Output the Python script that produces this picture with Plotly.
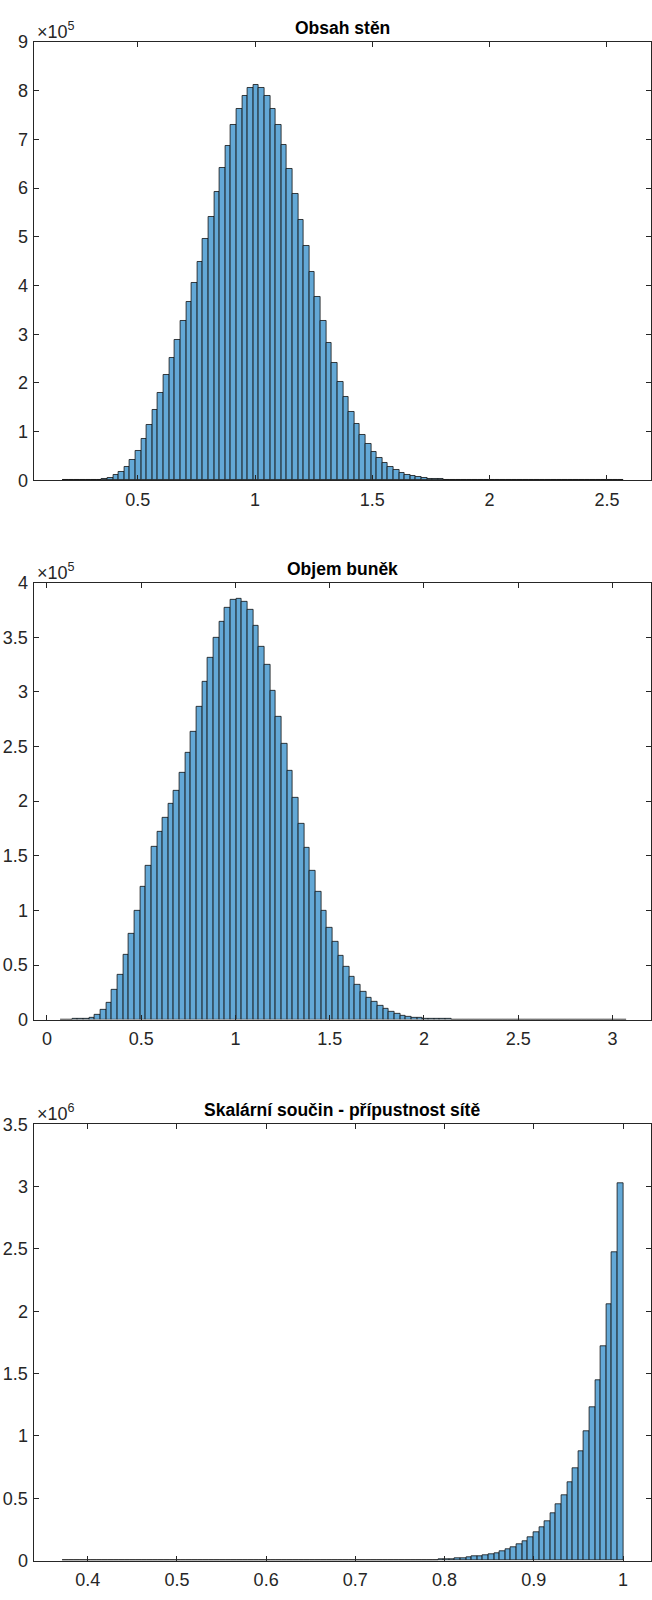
import numpy as np
import plotly.graph_objects as go

# ---------------- DATA ----------------
# Histogram 1: "Obsah stěn" (100 bins between min and max)
obsah_min, obsah_max = 0.18, 2.57
obsah_counts = [
    30, 70, 150, 300, 600, 1100, 1800, 3400, 5800, 11000,
    17800, 28000, 42500, 61000, 85300, 113000, 144700, 180500, 216400, 252200,
    288000, 326600, 366500, 405000, 447600, 496300, 541600, 591600, 641600, 686300,
    728900, 762700, 789700, 806000, 812100, 804600, 789700, 762700, 728900, 687600,
    639600, 588200, 534800, 480700, 428700, 377300, 327900, 282600, 240700, 202800,
    171100, 140000, 115000, 92600, 74400, 58100, 46700, 35800, 27000, 21600,
    15600, 12200, 8800, 6800, 4700, 3400, 2700, 2000, 1500, 1100,
    850, 650, 500, 380, 290, 220, 170, 130, 100, 80,
    60, 45, 35, 28, 22, 17, 13, 10, 8, 6,
    5, 4, 3, 2, 2, 1, 1, 1, 0, 1,
]

# Histogram 2: "Objem buněk"
objem_min, objem_max = 0.074, 3.074
objem_counts = [
    100, 200, 350, 600, 1200, 2100, 4500, 9000, 15700, 27100,
    40700, 59100, 79000, 99500, 121800, 140800, 158000, 172400, 185100, 197700,
    209800, 226100, 244200, 263500, 286400, 309600, 331000, 350000, 364700, 377400,
    384000, 384900, 382200, 375000, 360500, 341800, 324900, 301100, 277600, 252300,
    227900, 203500, 179400, 157000, 136200, 117000, 100100, 84100, 71100, 58800,
    48500, 38900, 31700, 25600, 19900, 16000, 12400, 9600, 7200, 5400,
    3900, 2700, 2100, 1500, 1200, 900, 700, 500, 400, 300,
    230, 180, 140, 110, 85, 65, 50, 40, 30, 24,
    18, 14, 11, 9, 7, 5, 4, 3, 3, 2,
    2, 1, 1, 1, 1, 0, 1, 0, 0, 1,
]

# Histogram 3: "Skalární součin - přípustnost sítě"
skal_min, skal_max = 0.372, 1.0
skal_counts = [
    2, 3, 3, 4, 5, 6, 7, 9, 10, 12,
    14, 16, 19, 22, 25, 29, 33, 38, 44, 50,
    57, 65, 74, 84, 95, 108, 122, 138, 155, 175,
    197, 220, 246, 275, 307, 342, 380, 422, 468, 518,
    573, 633, 698, 769, 846, 930, 1020, 1120, 1230, 1350,
    1480, 1620, 1780, 1950, 2130, 2330, 2550, 2790, 3050, 3330,
    3640, 3970, 4330, 4720, 4500, 5500, 7000, 8000, 11000, 13000,
    18000, 21000, 26000, 32000, 37000, 45000, 53000, 63000, 77000, 92000,
    111000, 132000, 158000, 187000, 227000, 269000, 317000, 377000, 449000, 528000,
    631000, 742000, 876000, 1035000, 1227000, 1449000, 1718000, 2053000, 2470000, 3030000,
]

titles = ["Obsah stěn", "Objem buněk", "Skalární součin - přípustnost sítě"]
exponents = ["5", "5", "6"]

x1_ticks = [0.5, 1, 1.5, 2, 2.5]
x1_labels = ["0.5", "1", "1.5", "2", "2.5"]
y1_ticks = [0, 1, 2, 3, 4, 5, 6, 7, 8, 9]
y1_labels = ["0", "1", "2", "3", "4", "5", "6", "7", "8", "9"]

x2_ticks = [0, 0.5, 1, 1.5, 2, 2.5, 3]
x2_labels = ["0", "0.5", "1", "1.5", "2", "2.5", "3"]
y2_ticks = [0, 0.5, 1, 1.5, 2, 2.5, 3, 3.5, 4]
y2_labels = ["0", "0.5", "1", "1.5", "2", "2.5", "3", "3.5", "4"]

x3_ticks = [0.4, 0.5, 0.6, 0.7, 0.8, 0.9, 1.0]
x3_labels = ["0.4", "0.5", "0.6", "0.7", "0.8", "0.9", "1"]
y3_ticks = [0, 0.5, 1, 1.5, 2, 2.5, 3, 3.5]
y3_labels = ["0", "0.5", "1", "1.5", "2", "2.5", "3", "3.5"]

# ---------------- LAYOUT CONSTANTS ----------------
W, H = 652, 1600
LEFT, RIGHT = 33.5, 651.0
panels = [
    dict(counts=obsah_counts, lo=obsah_min, hi=obsah_max, scale=1e5,
         xr=[0.0556, 2.688], yr=[0, 9], top=32.3, bottom=476.3,
         xt=x1_ticks, xl=x1_labels, yt=y1_ticks, yl=y1_labels),
    dict(counts=objem_counts, lo=objem_min, hi=objem_max, scale=1e5,
         xr=[-0.071, 3.204], yr=[0, 4], top=580.0, bottom=1022.4,
         xt=x2_ticks, xl=x2_labels, yt=y2_ticks, yl=y2_labels),
    dict(counts=skal_counts, lo=skal_min, hi=skal_max, scale=1e6,
         xr=[0.3393, 1.0313], yr=[0, 3.5], top=1128.3, bottom=1570.3,
         xt=x3_ticks, xl=x3_labels, yt=y3_ticks, yl=y3_labels),
]

AX_COLOR = "#262626"
FONT = "Liberation Sans, Arial, Helvetica, sans-serif"
BAR_FILL = "#63A8D6"

fig = go.Figure()
annotations = []
layout_axes = {}

for i, p in enumerate(panels, start=1):
    n = len(p["counts"])
    edges = np.linspace(p["lo"], p["hi"], n + 1)
    centers = (edges[:-1] + edges[1:]) / 2
    width = edges[1] - edges[0]
    xa = "x" if i == 1 else f"x{i}"
    ya = "y" if i == 1 else f"y{i}"
    fig.add_trace(go.Bar(
        x=centers, y=p["counts"], width=width,
        marker=dict(color=BAR_FILL, line=dict(color="#111111", width=0.8)),
        xaxis=xa, yaxis=ya, showlegend=False, hoverinfo="x+y",
    ))
    ydom = [1 - p["bottom"] / H, 1 - p["top"] / H]
    common = dict(showline=True, linecolor=AX_COLOR, linewidth=1, mirror="ticks",
                  ticks="inside", ticklen=5, tickwidth=1, tickcolor=AX_COLOR,
                  showgrid=False, zeroline=False,
                  tickfont=dict(family=FONT, size=18, color=AX_COLOR))
    layout_axes["xaxis" if i == 1 else f"xaxis{i}"] = dict(
        common, domain=[LEFT / W, RIGHT / W], range=p["xr"],
        anchor=ya, tickmode="array", tickvals=p["xt"], ticktext=p["xl"],
        ticklabelstandoff=3)
    layout_axes["yaxis" if i == 1 else f"yaxis{i}"] = dict(
        common, domain=ydom, range=[v * p["scale"] for v in p["yr"]],
        anchor=xa, tickmode="array",
        tickvals=[v * p["scale"] for v in p["yt"]], ticktext=p["yl"],
        ticklabelstandoff=1)
    # title
    annotations.append(dict(
        text=f"<b>{titles[i-1]}</b>", xref="paper", yref="paper",
        x=(LEFT + RIGHT) / 2 / W, y=1 - p["top"] / H, xanchor="center",
        yanchor="bottom", yshift=2, showarrow=False,
        font=dict(family=FONT, size=17.5, color="#000000")))
    # exponent
    annotations.append(dict(
        text=f"×10<sup>{exponents[i-1]}</sup>", xref="paper", yref="paper",
        x=(LEFT + 1) / W, y=1 - p["top"] / H, xanchor="left",
        yanchor="bottom", yshift=-2, showarrow=False,
        font=dict(family=FONT, size=18, color=AX_COLOR)))

fig.update_layout(
    width=W, height=H, margin=dict(l=0, r=0, t=0, b=0),
    paper_bgcolor="white", plot_bgcolor="white",
    bargap=0, annotations=annotations, **layout_axes,
)

fig.write_html("out.html")
